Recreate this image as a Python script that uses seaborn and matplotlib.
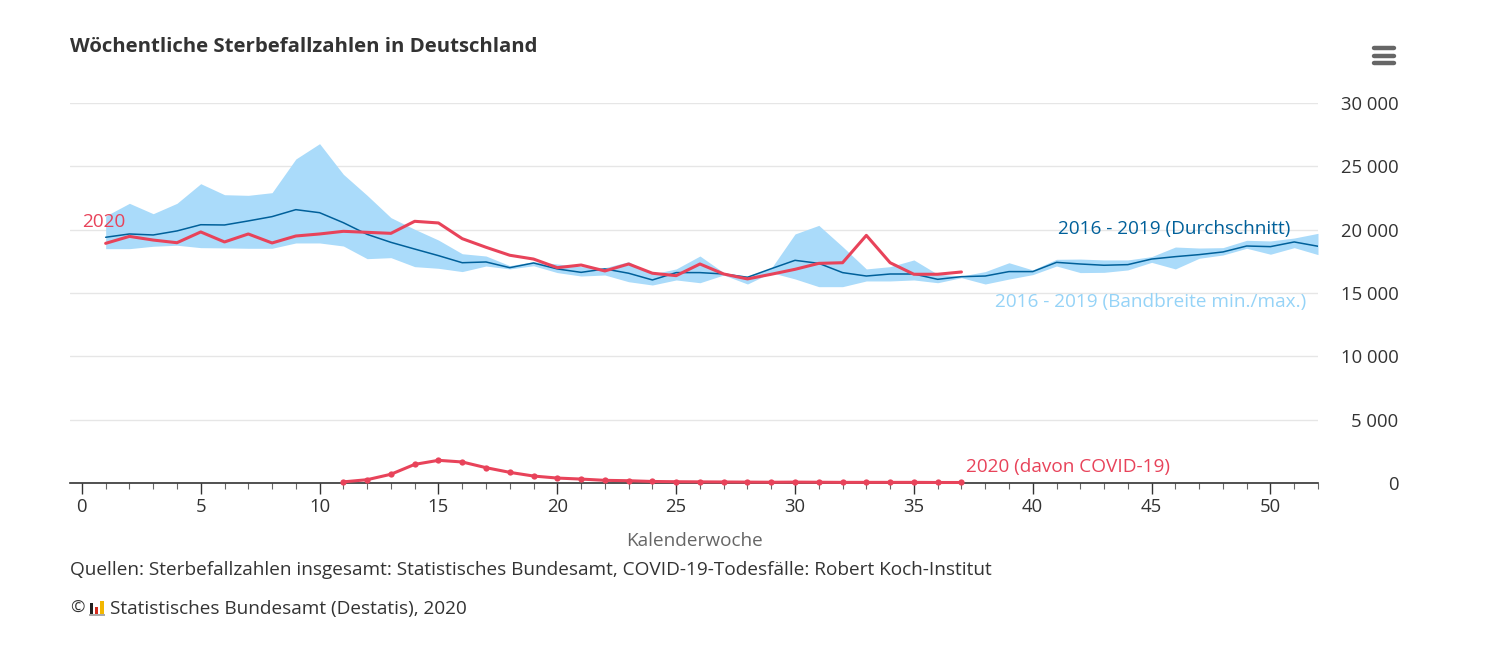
import numpy as np
import pandas as pd
import matplotlib
matplotlib.use("Agg")
import matplotlib.pyplot as plt
from matplotlib.lines import Line2D
from matplotlib.patches import Rectangle
from matplotlib.ticker import MultipleLocator, FuncFormatter
import seaborn as sns


WEEKS = list(range(1, 53))
BAND_MAX = [21080, 22080, 21260, 22080, 23630, 22760, 22710, 22920, 25580, 26790,
            24370, 22710, 20950, 20030, 19180, 18100, 17920, 17160, 17470, 17290,
            17080, 17000, 17470, 16500, 16900, 17920, 16610, 16340, 16950, 19660,
            20340, 18660, 16900, 17080, 17610, 16480, 16340, 16690, 17390, 16820,
            17660, 17680, 17610, 17610, 17870, 18630, 18550, 18580, 19160, 19110,
            19340, 19710]
BAND_MIN = [18500, 18500, 18690, 18770, 18580, 18560, 18530, 18530, 18950, 18950,
            18710, 17710, 17790, 17080, 16950, 16690, 17130, 16900, 17150, 16610,
            16340, 16420, 15890, 15630, 16030, 15810, 16420, 15710, 16610, 16110,
            15500, 15500, 15950, 15950, 16030, 15810, 16210, 15710, 16100, 16450,
            17130, 16610, 16630, 16820, 17420, 16900, 17740, 18000, 18530, 18060,
            18580, 18030]
MEAN_2016_2019 = [19400, 19660, 19580, 19900, 20390, 20370, 20690, 21030, 21580, 21340,
                  20550, 19630, 19000, 18470, 17950, 17390, 17450, 17000, 17370, 16900,
                  16630, 16900, 16560, 16030, 16610, 16610, 16500, 16240, 16920, 17580,
                  17340, 16610, 16340, 16500, 16500, 16080, 16290, 16340, 16690, 16690,
                  17420, 17290, 17190, 17240, 17680, 17870, 18030, 18240, 18710, 18660,
                  19030, 18690]

WEEKS_2020 = list(range(1, 38))
DEATHS_2020 = [18920, 19470, 19180, 18970, 19820, 19030, 19660, 18950, 19500, 19660,
               19870, 19790, 19710, 20660, 20530, 19290, 18610, 17980, 17680, 17000,
               17210, 16740, 17290, 16560, 16370, 17290, 16500, 16110, 16480, 16870,
               17340, 17390, 19550, 17390, 16480, 16480, 16660]

WEEKS_COVID = list(range(11, 38))
COVID_2020 = [90, 260, 690, 1470, 1790, 1660, 1210, 840, 550, 390,
              310, 210, 180, 120, 100, 90, 80, 70, 60, 70,
              60, 50, 50, 50, 50, 40, 40]

BAND_COLOR = "#aadbfa"
MEAN_COLOR = "#00609a"
RED = "#e8435a"
LIGHT_TEXT = "#95d3f7"
TEXT = "#333333"

W, H = 1506, 671
FS = 13.7
TICK_FS = 13.3


def px(x, y):
    return x / W, 1 - y / H


sns.set_theme(style="white")
plt.rcParams["font.family"] = ["Open Sans", "DejaVu Sans"]

ref = pd.DataFrame({"week": WEEKS, "mean": MEAN_2016_2019, "lo": BAND_MIN, "hi": BAND_MAX})
y2020 = pd.DataFrame({"week": WEEKS_2020, "deaths": DEATHS_2020})
covid = pd.DataFrame({"week": WEEKS_COVID, "deaths": COVID_2020})

fig = plt.figure(figsize=(W / 100, H / 100), dpi=100)
ax = fig.add_axes([70 / W, 1 - 483 / H, 1248 / W, 380 / H])

ax.fill_between(ref["week"], ref["lo"], ref["hi"], color=BAND_COLOR, lw=0, zorder=1)
sns.lineplot(data=ref, x="week", y="mean", color=MEAN_COLOR, lw=1.1, ax=ax, zorder=3)
sns.lineplot(data=y2020, x="week", y="deaths", color=RED, lw=2.2, ax=ax, zorder=4)
sns.lineplot(data=covid, x="week", y="deaths", color=RED, lw=2.2, marker="o",
             markersize=4.5, markeredgewidth=0, ax=ax, zorder=4, clip_on=False)

ax.set_xlim(-0.5, 52)
ax.set_ylim(0, 30000)
ax.xaxis.set_major_locator(MultipleLocator(5))
ax.xaxis.set_minor_locator(MultipleLocator(1))
ax.yaxis.set_major_locator(MultipleLocator(5000))
ax.yaxis.set_major_formatter(FuncFormatter(lambda v, p: f"{int(v):,}".replace(",", " ")))
ax.yaxis.tick_right()
ax.tick_params(axis="y", length=0, pad=58, labelsize=TICK_FS, labelcolor=TEXT)
for lbl in ax.get_yticklabels():
    lbl.set_horizontalalignment("right")
ax.tick_params(axis="x", which="major", direction="out", length=8, width=1, color=TEXT,
               labelsize=TICK_FS, labelcolor=TEXT, pad=3, bottom=True)
ax.tick_params(axis="x", which="minor", direction="out", length=4, width=0.8,
               color="#666666", bottom=True)

ax.grid(axis="y", color="#e6e6e6", lw=1)
ax.grid(axis="x", visible=False)
for side in ["top", "left", "right"]:
    ax.spines[side].set_visible(False)
ax.spines["bottom"].set_color(TEXT)
ax.spines["bottom"].set_linewidth(1.2)

ax.set_xlabel("Kalenderwoche", fontsize=FS, color="#666666", labelpad=11)
ax.set_ylabel("")

ax.text(0, 20600, "2020", color=RED, fontsize=FS, ha="left", va="center")
ax.text(50.85, 20050, "2016 - 2019 (Durchschnitt)", color=MEAN_COLOR, fontsize=FS,
        ha="right", va="center")
ax.text(51.5, 14290, "2016 - 2019 (Bandbreite min./max.)", color=LIGHT_TEXT, fontsize=FS,
        ha="right", va="center")
ax.text(37.2, 1260, "2020 (davon COVID-19)", color=RED, fontsize=FS, ha="left", va="center")

fig.text(*px(70, 47), "Wöchentliche Sterbefallzahlen in Deutschland", fontsize=14.7,
         fontweight="bold", color=TEXT, ha="left", va="center")
fig.text(*px(70, 570), "Quellen: Sterbefallzahlen insgesamt: Statistisches Bundesamt, "
         "COVID-19-Todesfälle: Robert Koch-Institut", fontsize=FS, color=TEXT,
         ha="left", va="center")
fig.text(*px(70, 609), "©", fontsize=12.5, color=TEXT, ha="left", va="center")
fig.text(*px(110, 609), "Statistisches Bundesamt (Destatis), 2020", fontsize=FS,
         color=TEXT, ha="left", va="center")

# small destatis logo
for x0, y0, w, h, c in [(90, 603, 3, 11, "#222222"), (95, 607, 3, 7, "#d52b1e"),
                        (100, 601, 4, 13, "#f2b700"), (89, 614, 16, 2, "#aaaaaa")]:
    fig.add_artist(Rectangle(px(x0, y0 + h), w / W, h / H, color=c, lw=0,
                             transform=fig.transFigure))

# hamburger menu icon
for yy in (48, 56, 63):
    fig.add_artist(Line2D([1374 / W, 1394 / W], [1 - yy / H, 1 - yy / H], color="#666666",
                          lw=3.2, solid_capstyle="round", transform=fig.transFigure))

fig.savefig("out.png", dpi=100, facecolor="white")
